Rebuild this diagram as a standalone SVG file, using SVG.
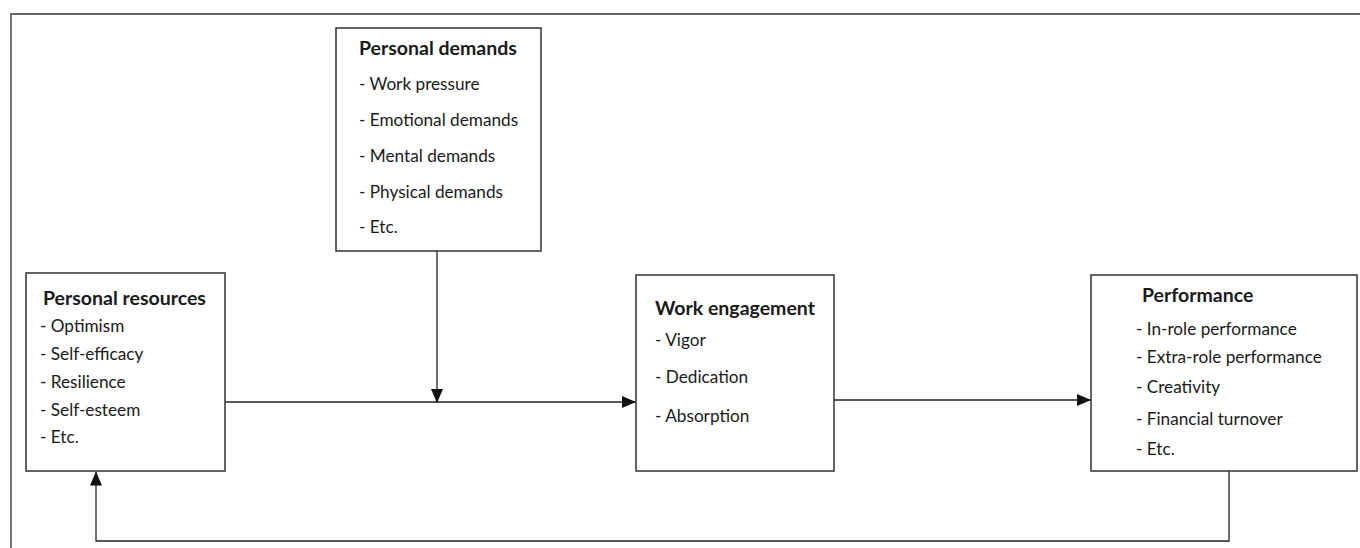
<svg xmlns="http://www.w3.org/2000/svg" width="1360" height="548" viewBox="0 0 1360 548">
<style>
.box{fill:#fff;stroke:#333;stroke-width:1.5}
.title{font-family:Lato,"Open Sans",sans-serif;font-weight:bold;font-size:19.5px;fill:#1a1a1a}
.item{font-family:Lato,"Open Sans",sans-serif;font-size:17.2px;fill:#1a1a1a}
.conn{fill:none;stroke:#222;stroke-width:1.3}
.frame{fill:none;stroke:#666;stroke-width:1.8}
</style>
<defs>
<marker id="arr" viewBox="0 0 14 12" refX="14" refY="6" markerWidth="14" markerHeight="12" markerUnits="userSpaceOnUse" orient="auto">
<path d="M0,0 L14,6 L0,12 Z" fill="#111"/>
</marker>
</defs>
<rect width="1360" height="548" fill="#fff"/>
<path class="frame" d="M11,548 V14 H1360"/>
<g id="connectors">
<path class="conn" d="M225,402 H636" marker-end="url(#arr)"/>
<path class="conn" d="M437,251 V403" marker-end="url(#arr)"/>
<path class="conn" d="M834,400 H1091" marker-end="url(#arr)"/>
<path class="conn" d="M1229,471 V541 H96 V471.5" marker-end="url(#arr)"/>
</g>
<g id="personal-demands">
<rect class="box" x="336" y="28" width="205" height="223"/>
<text class="title" x="359" y="55">Personal demands</text>
<text class="item" x="359" y="90">- Work pressure</text>
<text class="item" x="359" y="126">- Emotional demands</text>
<text class="item" x="359" y="162">- Mental demands</text>
<text class="item" x="359" y="198">- Physical demands</text>
<text class="item" x="359" y="233">- Etc.</text>
</g>
<g id="personal-resources">
<rect class="box" x="26" y="273" width="199" height="198"/>
<text class="title" x="43" y="305">Personal resources</text>
<text class="item" x="40" y="332">- Optimism</text>
<text class="item" x="40" y="360">- Self-efficacy</text>
<text class="item" x="40" y="388">- Resilience</text>
<text class="item" x="40" y="416">- Self-esteem</text>
<text class="item" x="40" y="443">- Etc.</text>
</g>
<g id="work-engagement">
<rect class="box" x="636" y="275" width="198" height="196"/>
<text class="title" x="655" y="315">Work engagement</text>
<text class="item" x="655" y="346">- Vigor</text>
<text class="item" x="655" y="383">- Dedication</text>
<text class="item" x="655" y="422">- Absorption</text>
</g>
<g id="performance">
<rect class="box" x="1091" y="275" width="266" height="196"/>
<text class="title" x="1142" y="302">Performance</text>
<text class="item" x="1136" y="335">- In-role performance</text>
<text class="item" x="1136" y="363">- Extra-role performance</text>
<text class="item" x="1136" y="393">- Creativity</text>
<text class="item" x="1136" y="425">- Financial turnover</text>
<text class="item" x="1136" y="455">- Etc.</text>
</g>
</svg>
